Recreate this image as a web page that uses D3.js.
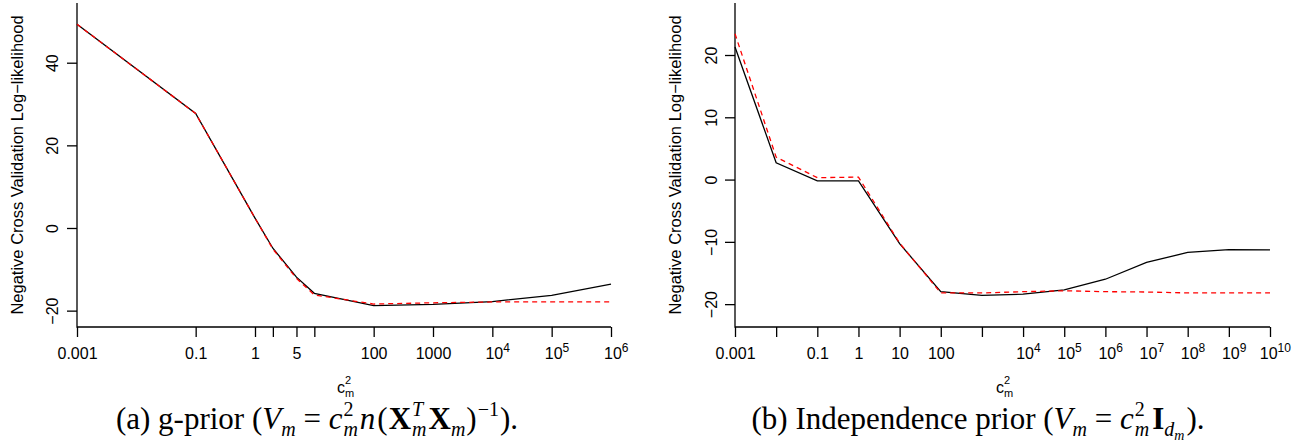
<!DOCTYPE html>
<html>
<head>
<meta charset="utf-8">
<script src="https://cdn.jsdelivr.net/npm/d3@7"></script>
<style>
  body { margin: 0; background: #fff; }
  svg text { font-family: "Liberation Sans", Arial, sans-serif; }
  .cap text, text.cap { font-family: "Liberation Serif", "Times New Roman", serif; }
</style>
</head>
<body>
<div id="chart"></div>
<script>

// Values
// (a) g-prior
var leftC = [0.001, 0.1, 1, 2, 5, 10, 100, 1000, 1e4, 1e5, 1e6];
var leftBlack = [49.3, 27.7, 2.4, -4.9, -11.9, -15.8, -18.8, -18.5, -17.8, -16.3, -13.6];
var leftRed = [49.3, 27.7, 2.4, -5.1, -12.2, -16.2, -18.4, -18.1, -17.9, -17.9, -17.9];
var leftXTicks = [0.001, 0.1, 1, 2, 5, 10, 100, 1000, 1e4, 1e5, 1e6];
var leftXLabels = ["0.001", "0.1", "1", "", "5", "", "100", "1000", "10^4", "10^5", "10^6"];
var leftYTicks = [-20, 0, 20, 40];

// (b) Independence prior
var rightC = [0.001, 0.01, 0.1, 1, 10, 100, 1000, 1e4, 1e5, 1e6, 1e7, 1e8, 1e9, 1e10];
var rightBlack = [21.3, 2.7, -0.2, -0.2, -10.3, -18.0, -18.6, -18.4, -17.7, -16.0, -13.3, -11.7, -11.25, -11.3];
var rightRed = [23.4, 3.6, 0.3, 0.4, -10.2, -18.2, -18.2, -18.0, -17.85, -18.0, -18.05, -18.2, -18.2, -18.2];
var rightXTicks = [0.001, 0.01, 0.1, 1, 10, 100, 1000, 1e4, 1e5, 1e6, 1e7, 1e8, 1e9, 1e10];
var rightXLabels = ["0.001", "", "0.1", "1", "10", "100", "", "10^4", "10^5", "10^6", "10^7", "10^8", "10^9", "10^10"];
var rightYTicks = [-20, -10, 0, 10, 20];

var yLabel = "Negative Cross Validation Log\u2212likelihood";

var svgWidth = 1301;
var svgHeight = 448;

var svg = d3.select("#chart")
            .append("svg")
            .attr("width", svgWidth)
            .attr("height", svgHeight);

function drawPanel(p) {
    var xScale = d3.scaleLog()
                   .domain([p.c[0], p.c[p.c.length - 1]])
                   .range([p.left, p.right]);
    var yScale = d3.scaleLinear()
                   .domain(p.yDomain)
                   .range([p.bottom, p.top]);

    var g = svg.append("g");

    // L shaped box
    g.append("path")
     .attr("d", `M${p.left},${p.top}V${p.bottom}H${p.right}`)
     .attr("fill", "none")
     .attr("stroke", "#000")
     .attr("stroke-width", 1.3);

    // x axis
    var xAxis = g.append("g")
                 .attr("transform", `translate(0, ${p.bottom})`)
                 .call(d3.axisBottom(xScale)
                         .tickValues(p.xTicks)
                         .tickFormat((d, i) => p.xLabels[i])
                         .tickSize(10)
                         .tickSizeOuter(0)
                         .tickPadding(11));
    xAxis.select(".domain").remove();
    xAxis.selectAll("line").attr("stroke-width", 1.3);
    xAxis.selectAll("text")
         .attr("font-family", "Liberation Sans, Arial, sans-serif")
         .attr("font-size", 16)
         .attr("fill", "#000")
         .attr("dy", "0.71em")
         .each(function(d, i) {
             var lab = p.xLabels[i];
             if (lab.indexOf("^") > 0) {
                 var parts = lab.split("^");
                 var t = d3.select(this).text(parts[0]);
                 t.append("tspan")
                  .attr("dy", -7)
                  .attr("font-size", 12)
                  .text(parts[1]);
                 t.attr("dx", "0.3em");
             }
         });

    // y axis
    var yAxis = g.append("g")
                 .attr("transform", `translate(${p.left}, 0)`)
                 .call(d3.axisLeft(yScale)
                         .tickValues(p.yTicks)
                         .tickFormat(d => d < 0 ? "\u2212" + Math.abs(d) : d)
                         .tickSize(10)
                         .tickSizeOuter(0));
    yAxis.select(".domain").remove();
    yAxis.selectAll("line").attr("stroke-width", 1.3);
    yAxis.selectAll("text")
         .attr("font-family", "Liberation Sans, Arial, sans-serif")
         .attr("font-size", 16)
         .attr("fill", "#000")
         .attr("x", 0)
         .attr("dy", 0)
         .attr("text-anchor", "middle")
         .attr("transform", `translate(${-p.yTickGap}, 0) rotate(-90)`);

    // y label
    g.append("text")
     .attr("transform", `translate(${p.yLabelX}, ${(p.top + p.bottom) / 2}) rotate(-90)`)
     .attr("text-anchor", "middle")
     .attr("font-size", 16.5)
     .attr("fill", "#000")
     .text(yLabel);

    // x label c^2_m
    var xl = g.append("text")
              .attr("x", p.xLabelX)
              .attr("y", 393)
              .attr("font-size", 16)
              .attr("fill", "#000");
    xl.append("tspan").text("c");
    xl.append("tspan").attr("dy", -9).attr("font-size", 11).text("2");
    xl.append("tspan").attr("dx", -6.2).attr("dy", 13).attr("font-size", 11).text("m");

    // lines: black solid first, red dashed on top
    var line = d3.line()
                 .x((d, i) => xScale(p.c[i]))
                 .y(d => yScale(d));

    g.append("path")
     .datum(p.black)
     .attr("d", line)
     .attr("fill", "none")
     .attr("stroke", "#000")
     .attr("stroke-width", 1.3);

    g.append("path")
     .datum(p.red)
     .attr("d", line)
     .attr("fill", "none")
     .attr("stroke", "#ff0000")
     .attr("stroke-width", 1.3)
     .attr("stroke-dasharray", "5,4");
}

drawPanel({
    c: leftC, black: leftBlack, red: leftRed,
    xTicks: leftXTicks, xLabels: leftXLabels, yTicks: leftYTicks,
    left: 77, right: 611, top: 3, bottom: 327,
    yDomain: [-23.96, 54.45],
    yTickGap: 18.7, yLabelX: 23, xLabelX: 337
});

drawPanel({
    c: rightC, black: rightBlack, red: rightRed,
    xTicks: rightXTicks, xLabels: rightXLabels, yTicks: rightYTicks,
    left: 735, right: 1270, top: 3, bottom: 327,
    yDomain: [-23.67, 28.35],
    yTickGap: 18.5, yLabelX: 681, xLabelX: 996
});

// Captions with math, built from tspans
var capSize = 31;
function caption(x, parts) {
    var t = svg.append("text")
               .attr("class", "cap")
               .attr("x", x)
               .attr("y", 429)
               .attr("text-anchor", "middle")
               .attr("font-size", capSize)
               .attr("fill", "#000");
    var level = 0;
    var prev = null;
    parts.forEach(function(s) {
        var shift = s.pos === "sup" ? -13 : s.pos === "sub" ? 7 : s.pos === "subsub" ? 11 : 0;
        var ts = t.append("tspan")
                  .attr("font-size", s.pos ? (s.pos === "subsub" ? 14 : 20) : capSize)
                  .attr("font-style", s.st === "i" ? "italic" : "normal")
                  .attr("font-weight", s.st === "b" ? "bold" : "normal")
                  .attr("dy", shift - level)
                  .text(s.t);
        if (s.stack && prev) {
            ts.attr("dx", -prev.node().getComputedTextLength());
        } else if (s.gap) {
            ts.attr("dx", s.gap);
        }
        level = shift;
        prev = ts;
    });
}

caption(317, [
    {t: "(a) g-prior ("},
    {t: "V", st: "i"}, {t: "m", st: "i", pos: "sub"},
    {t: " = "},
    {t: "c", st: "i"}, {t: "2", pos: "sup", gap: 1}, {t: "m", st: "i", pos: "sub", stack: true},
    {t: "n", st: "i", gap: 2},
    {t: "(", gap: 2},
    {t: "X", st: "b", gap: 1}, {t: "T", st: "i", pos: "sup", gap: 1}, {t: "m", st: "i", pos: "sub", stack: true},
    {t: "X", st: "b", gap: 2}, {t: "m", st: "i", pos: "sub"},
    {t: ")", gap: 1}, {t: "\u22121", pos: "sup", gap: 1},
    {t: ").", gap: 1}
]);

caption(978, [
    {t: "(b) Independence prior ("},
    {t: "V", st: "i"}, {t: "m", st: "i", pos: "sub"},
    {t: " = "},
    {t: "c", st: "i"}, {t: "2", pos: "sup", gap: 1}, {t: "m", st: "i", pos: "sub", stack: true},
    {t: "I", st: "b", gap: 3}, {t: "d", st: "i", pos: "sub"}, {t: "m", st: "i", pos: "subsub"},
    {t: ").", gap: 2}
]);

</script>
</body>
</html>
